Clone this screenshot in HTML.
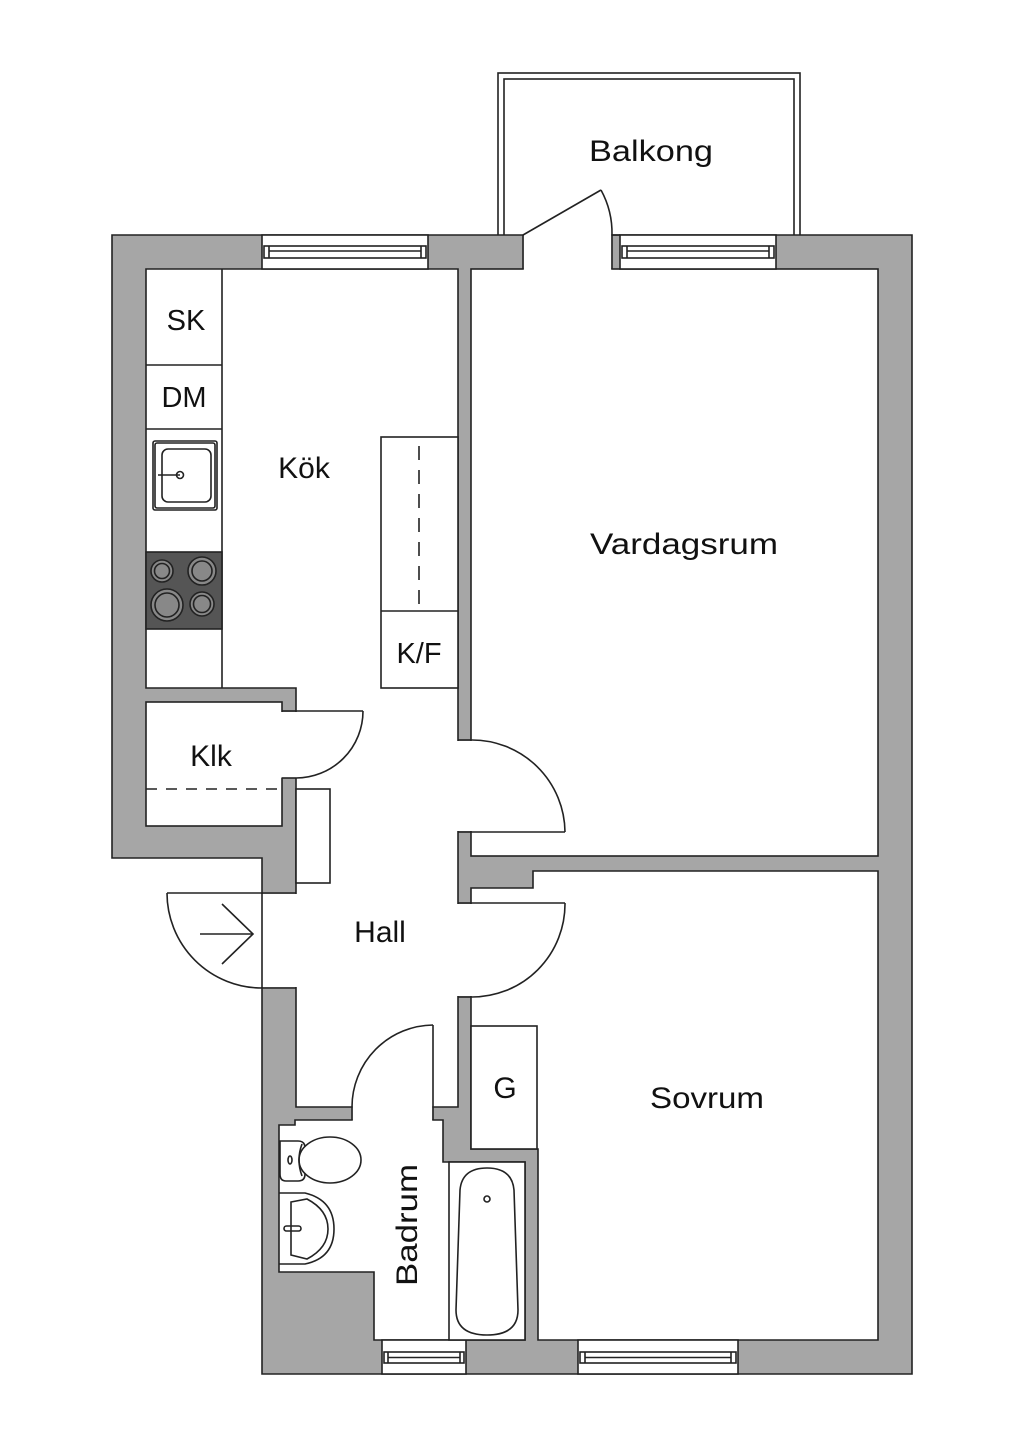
<!DOCTYPE html>
<html><head><meta charset="utf-8"><style>html,body{margin:0;padding:0;background:#fff}svg{display:block}text{font-family:"Liberation Sans",sans-serif;fill:#111}</style></head><body>
<svg width="1024" height="1448" viewBox="0 0 1024 1448" xmlns="http://www.w3.org/2000/svg">
<g stroke="#222" stroke-width="1.6" fill="none" stroke-linejoin="miter">
<!-- balcony -->
<rect x="498" y="73" width="302" height="163" fill="#fff"/>
<rect x="504" y="79" width="290" height="157" fill="#fff"/>
<!-- outer gray -->
<polygon points="112,235 912,235 912,1374 262,1374 262,858 112,858" fill="#a6a6a6"/>
<!-- rooms -->
<polygon points="146,269 458,269 458,1107 296,1107 296,688 146,688" fill="#fff"/>
<rect x="146" y="702" width="136" height="124" fill="#fff"/>
<rect x="471" y="269" width="407" height="587" fill="#fff"/>
<polygon points="471,888 533,888 533,871 878,871 878,1340 538,1340 538,1149 471,1149" fill="#fff"/>
<polygon points="279,1125 295,1125 295,1120 443,1120 443,1162 525,1162 525,1340 374,1340 374,1272 279,1272" fill="#fff"/>
</g>
<!-- openings -->
<g fill="#fff" stroke="none">
<rect x="523.8" y="233" width="87.4" height="38"/>
<rect x="457" y="741" width="15" height="90"/>
<rect x="457" y="904" width="15" height="92"/>
<rect x="281" y="712" width="16" height="65.5"/>
<rect x="261" y="894" width="36" height="93"/>
<rect x="352.8" y="1106" width="79.4" height="15"/>
</g>
<g stroke="#222" stroke-width="1.6" fill="none">
<!-- jambs -->
<line x1="523" y1="235" x2="523" y2="269"/><line x1="612" y1="235" x2="612" y2="269"/>
<line x1="458" y1="740" x2="471" y2="740"/><line x1="458" y1="832" x2="471" y2="832"/>
<line x1="458" y1="903" x2="471" y2="903"/><line x1="458" y1="997" x2="471" y2="997"/>
<line x1="282" y1="711" x2="296" y2="711"/><line x1="282" y1="778" x2="296" y2="778"/>
<line x1="262" y1="893" x2="296" y2="893"/><line x1="262" y1="988" x2="296" y2="988"/>
<line x1="352" y1="1107" x2="352" y2="1120"/><line x1="433" y1="1107" x2="433" y2="1120"/>
<line x1="612" y1="235" x2="620" y2="235"/>
<!-- windows -->
<rect x="262" y="235" width="166" height="34" fill="#fff"/>
<rect x="264" y="246" width="162" height="12"/><line x1="269" y1="251" x2="421" y2="251"/><line x1="269" y1="246" x2="269" y2="258"/><line x1="421" y1="246" x2="421" y2="258"/>
<rect x="620" y="235" width="156" height="34" fill="#fff"/>
<rect x="622" y="246" width="152" height="12"/><line x1="627" y1="251" x2="769" y2="251"/><line x1="627" y1="246" x2="627" y2="258"/><line x1="769" y1="246" x2="769" y2="258"/>
<rect x="382" y="1340" width="84" height="34" fill="#fff"/>
<rect x="384" y="1352" width="80" height="11"/><line x1="388" y1="1357.5" x2="460" y2="1357.5"/><line x1="388" y1="1352" x2="388" y2="1363"/><line x1="460" y1="1352" x2="460" y2="1363"/>
<rect x="578" y="1340" width="160" height="34" fill="#fff"/>
<rect x="580" y="1352" width="156" height="11"/><line x1="585" y1="1357.5" x2="731" y2="1357.5"/><line x1="585" y1="1352" x2="585" y2="1363"/><line x1="731" y1="1352" x2="731" y2="1363"/>
<!-- doors -->
<line x1="523" y1="235" x2="601" y2="190"/><path d="M601,190 A90,90 0 0 1 612,235"/>
<line x1="471" y1="832" x2="565" y2="832"/><path d="M471,740 A93,93 0 0 1 565,832"/>
<line x1="471" y1="903" x2="565" y2="903"/><path d="M565,903 A93,93 0 0 1 471,997"/>
<line x1="296" y1="711" x2="363" y2="711"/><path d="M363,711 A67,67 0 0 1 296,778"/>
<line x1="167" y1="893" x2="262" y2="893"/><path d="M167,893 A95,95 0 0 0 262,988"/><line x1="262" y1="893" x2="262" y2="988"/>
<line x1="200" y1="934" x2="253" y2="934"/><polyline points="222,904 253,934 222,964"/>
<line x1="433" y1="1025" x2="433" y2="1107"/><path d="M433,1025 A82,82 0 0 0 352,1107"/>
<!-- kitchen -->
<line x1="222" y1="269" x2="222" y2="688"/>
<line x1="146" y1="365" x2="222" y2="365"/><line x1="146" y1="429" x2="222" y2="429"/>
<rect x="153" y="441" width="64" height="69" rx="2"/><rect x="155" y="443" width="60" height="65" rx="2"/>
<rect x="162" y="449" width="49" height="53" rx="6"/>
<line x1="158" y1="475" x2="180" y2="475"/><circle cx="180" cy="475" r="3.5"/>
<rect x="146" y="552" width="76" height="77" fill="#555"/>
<g fill="#888"><circle cx="162" cy="571" r="11"/><circle cx="202" cy="571" r="14"/><circle cx="167" cy="605" r="16"/><circle cx="202" cy="604" r="12"/></g>
<circle cx="162" cy="571" r="7.5"/><circle cx="202" cy="571" r="10"/><circle cx="167" cy="605" r="12"/><circle cx="202" cy="604" r="8.5"/>
<rect x="381" y="437" width="77" height="251" fill="#fff"/><line x1="381" y1="611" x2="458" y2="611"/>
<line x1="419" y1="446" x2="419" y2="611" stroke-dasharray="14,10"/>
<!-- klk -->
<line x1="146" y1="789" x2="282" y2="789" stroke-dasharray="11,9"/>
<rect x="296" y="789" width="34" height="94" fill="#fff"/>
<!-- closet G -->
<rect x="471" y="1026" width="66" height="123" fill="#fff"/>
<!-- bath -->
<rect x="449" y="1162" width="76" height="178" fill="#fff"/>
<path d="M460,1190 Q462,1168 487,1168 Q512,1168 514,1190 L518,1310 Q518,1335 487,1335 Q456,1335 456,1310 Z"/>
<circle cx="487" cy="1199" r="3"/>
<path d="M280,1141 L298,1141 Q305,1141 305,1148 L305,1174 Q305,1181 298,1181 L286,1181 Q280,1181 280,1174 Z"/>
<ellipse cx="330" cy="1160" rx="31" ry="23" fill="#fff"/>
<path d="M302,1144 Q296,1160 302,1176"/>
<ellipse cx="290" cy="1160" rx="2" ry="4"/>
<path d="M279,1193 L305,1193 Q334,1200 334,1229 Q334,1258 305,1264 L279,1264"/>
<path d="M291,1202 L307,1199 Q328,1210 328,1229 Q328,1248 307,1259 L291,1255 Z"/>
<rect x="284" y="1226" width="17" height="5" rx="2.5"/>
</g>
<g font-size="30">
<text x="651" y="161" text-anchor="middle" textLength="124" lengthAdjust="spacingAndGlyphs">Balkong</text>
<text x="186" y="330" text-anchor="middle" font-size="29">SK</text>
<text x="184" y="407" text-anchor="middle" font-size="29">DM</text>
<text x="304" y="478" text-anchor="middle">Kök</text>
<text x="419" y="663" text-anchor="middle" font-size="29">K/F</text>
<text x="684" y="554" text-anchor="middle" textLength="188" lengthAdjust="spacingAndGlyphs">Vardagsrum</text>
<text x="211" y="766" text-anchor="middle">Klk</text>
<text x="380" y="942" text-anchor="middle">Hall</text>
<text x="505" y="1098" text-anchor="middle">G</text>
<text x="707" y="1108" text-anchor="middle" textLength="114" lengthAdjust="spacingAndGlyphs">Sovrum</text>
<text transform="translate(417,1225) rotate(-90)" text-anchor="middle" textLength="122" lengthAdjust="spacingAndGlyphs">Badrum</text>
</g>
</svg>
</body></html>
